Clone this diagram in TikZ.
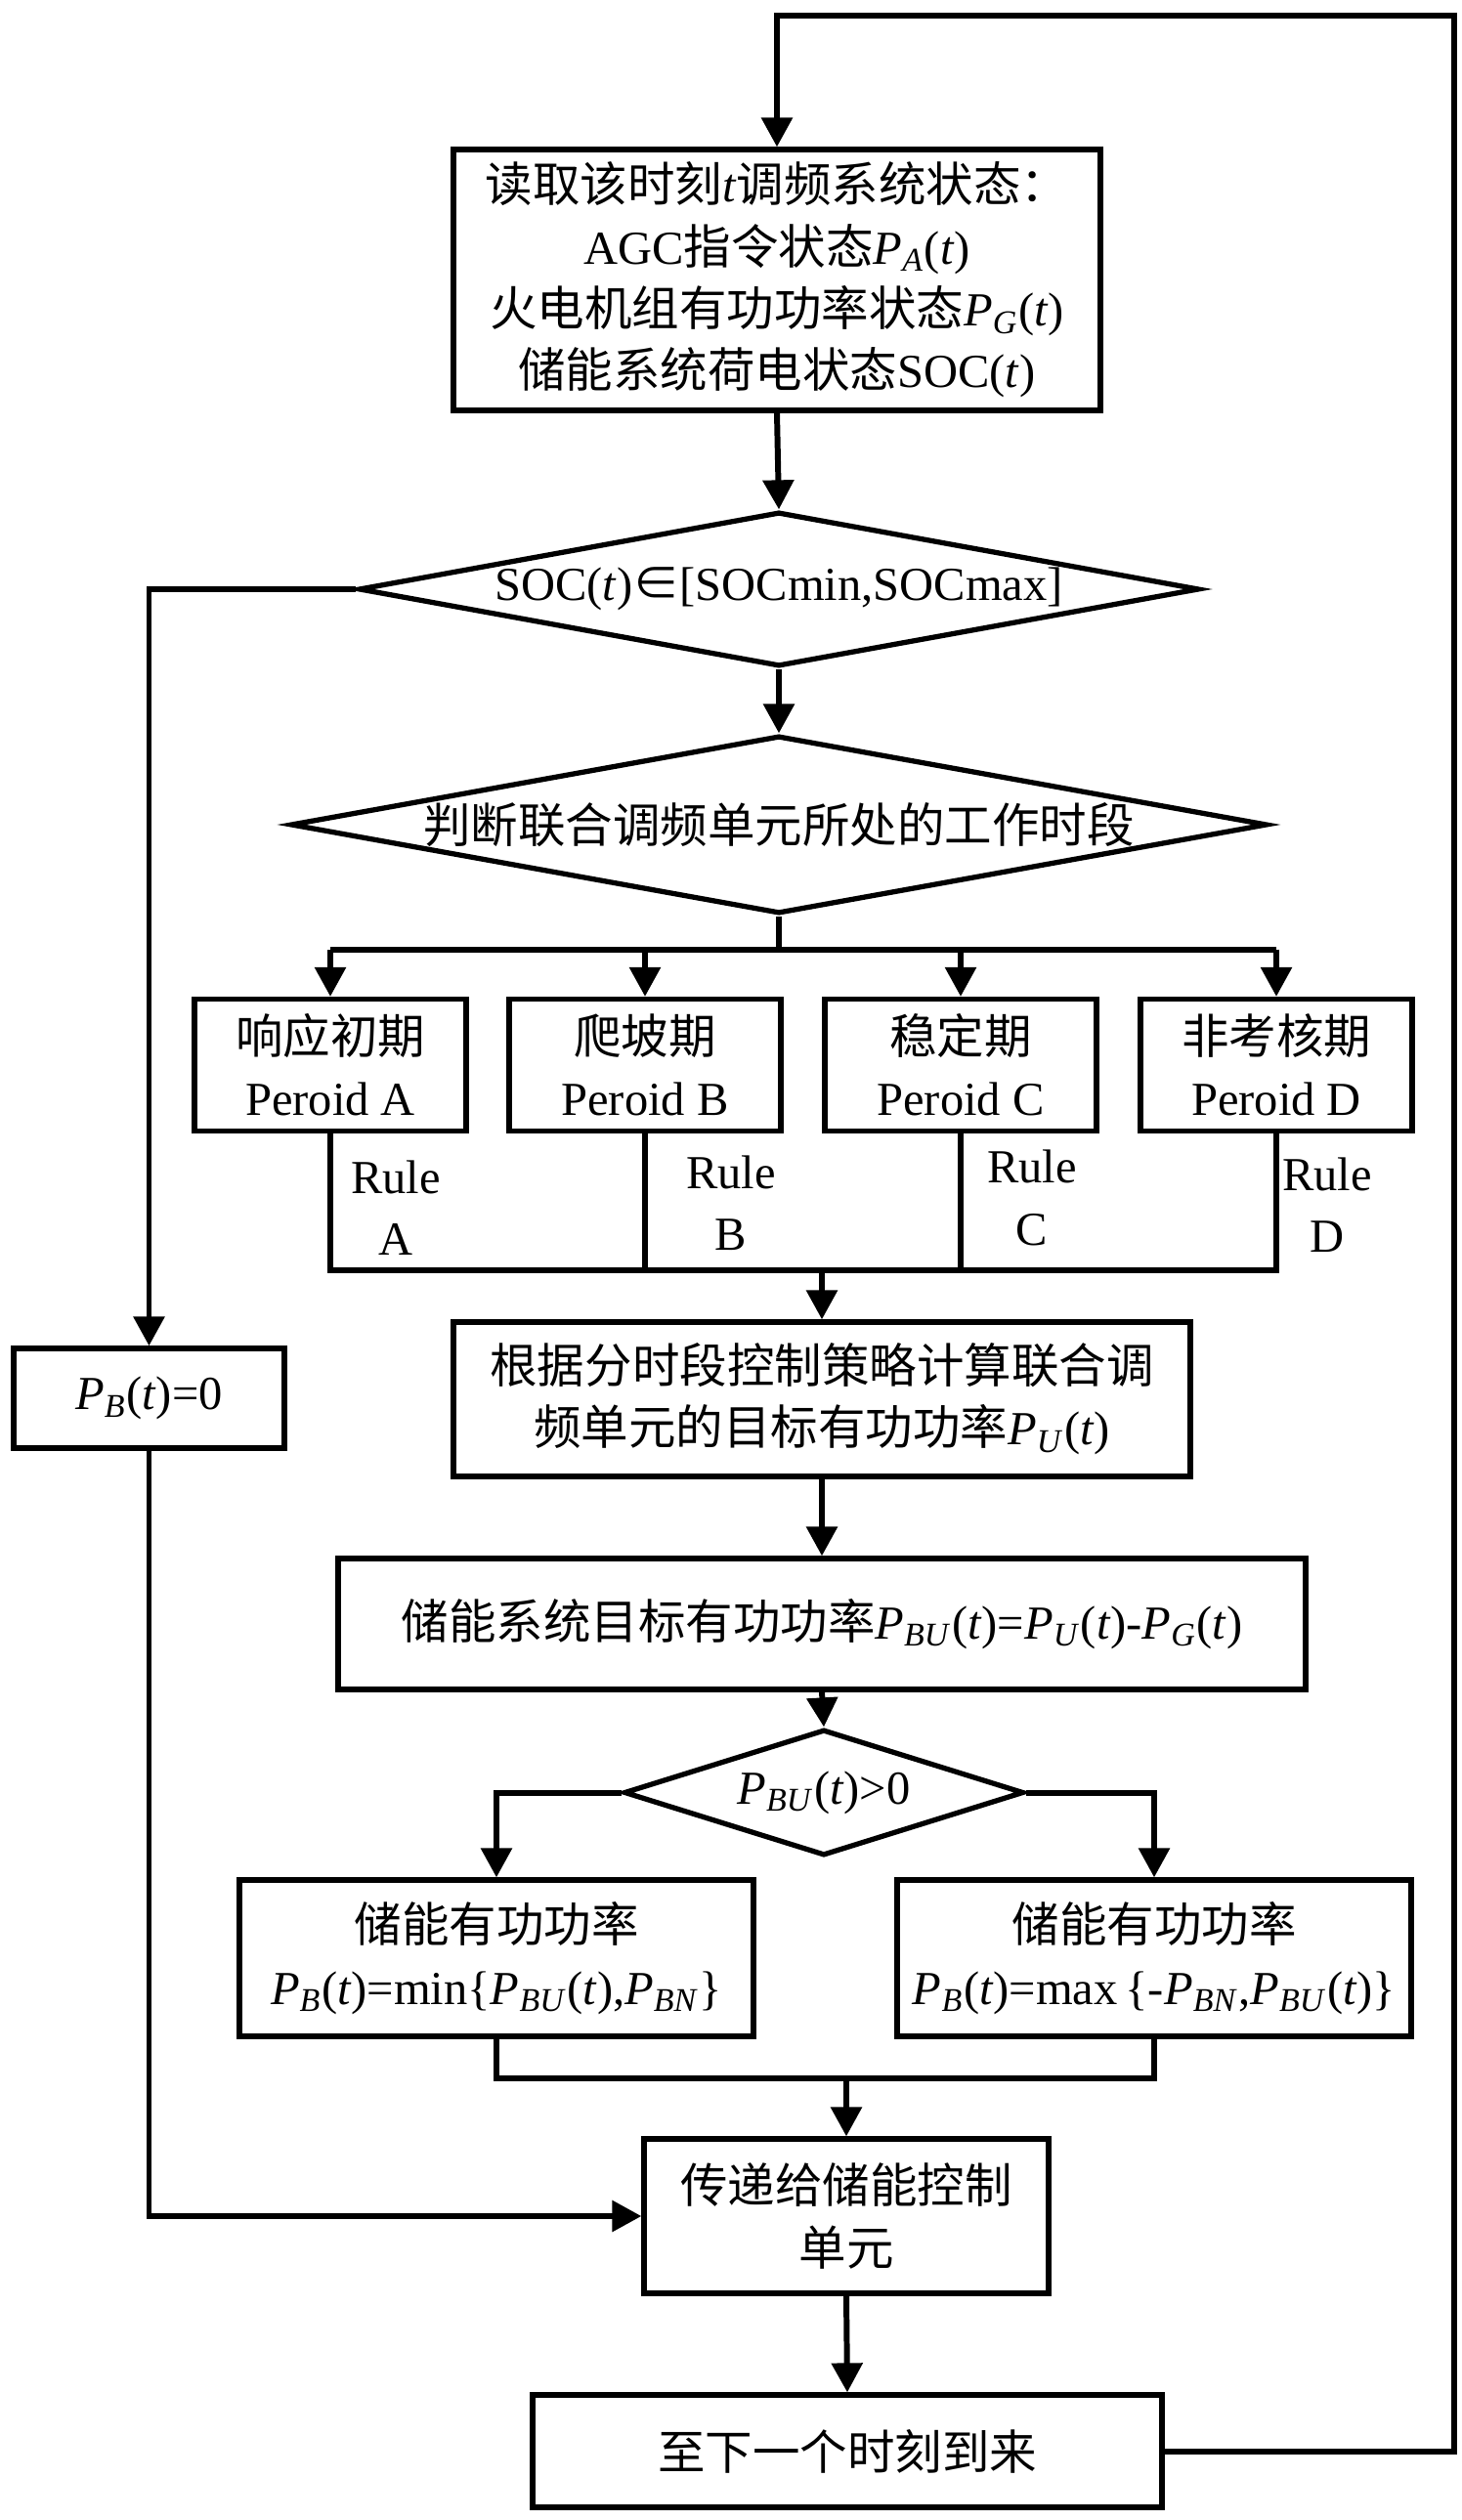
\documentclass[tikz,border=0pt]{standalone}
\usepackage{fontspec}
\setmainfont{Liberation Serif}
\newfontfamily\cjk{Noto Sans CJK SC}
\usetikzlibrary{arrows.meta,shapes.geometric,calc}
\newcommand{\zh}[1]{{\cjk #1}}
\newcommand{\Pv}[1]{\textit{P}\textsubscript{\textit{#1}}}
\newcommand{\vt}{(\textit{t})}
\tikzstyle{every node}=[font=\fontsize{13.8}{18}\selectfont]
\tikzstyle{every path}=[line width=1.7pt,line join=miter]
\tikzstyle{box}=[draw,line width=1.5pt,align=center,inner sep=0pt]
\tikzstyle{dec}=[draw,diamond,line width=1.5pt,inner sep=0pt,align=center]
\tikzstyle{arr}=[-{Triangle[length=3mm,width=3.1mm]}]

\begin{document}
\begin{tikzpicture}
  \useasboundingbox (0,0) rectangle (14.95,-25.79);
  % nodes
  \node[box,minimum width=6.62cm,minimum height=2.67cm] (read) at (7.95,-2.865)
    {\zh{读取该时刻}\textit{t}\zh{调频系统状态：}\\AGC\zh{指令状态}\Pv{A}\vt\\
     \zh{火电机组有功功率状态}\Pv{G}\vt\\\zh{储能系统荷电状态}SOC\vt};
  \node[dec,aspect=6,minimum width=8.6cm,minimum height=1.58cm] (soc) at (7.97,-6.03)
    {SOC\vt\zh{∈}[SOCmin,SOCmax]};
  \node[dec,aspect=6,minimum width=9.88cm,minimum height=1.82cm] (stage) at (7.97,-8.44)
    {\zh{判断联合调频单元所处的工作时段}};
  \node[box,minimum width=2.78cm,minimum height=1.35cm] (pa) at (3.38,-10.90) {\zh{响应初期}\\Peroid A};
  \node[box,minimum width=2.78cm,minimum height=1.35cm] (pb) at (6.60,-10.90) {\zh{爬坡期}\\Peroid B};
  \node[box,minimum width=2.78cm,minimum height=1.35cm] (pc) at (9.83,-10.90) {\zh{稳定期}\\Peroid C};
  \node[box,minimum width=2.78cm,minimum height=1.35cm] (pd) at (13.06,-10.90) {\zh{非考核期}\\Peroid D};
  \node[align=center] (ra) at (4.05,-12.36) {Rule\\A};
  \node[align=center] (rb) at (7.48,-12.31) {Rule\\B};
  \node[align=center] (rc) at (10.56,-12.26) {Rule\\C};
  \node[align=center] (rd) at (13.58,-12.33) {Rule\\D};
  \node[box,minimum width=2.77cm,minimum height=1.02cm] (pbz) at (1.525,-14.31) {\Pv{B}\vt=0};
  \node[box,minimum width=7.54cm,minimum height=1.58cm] (U) at (8.41,-14.32)
    {\zh{根据分时段控制策略计算联合调}\\\zh{频单元的目标有功功率}\Pv{U}\vt};
  \node[box,minimum width=9.90cm,minimum height=1.34cm] (BU) at (8.41,-16.62)
    {\zh{储能系统目标有功功率}\Pv{BU}\vt=\Pv{U}\vt-\Pv{G}\vt};
  \node[dec,aspect=3,minimum width=4.09cm,minimum height=1.29cm] (d3) at (8.43,-18.345)
    {\Pv{BU}\vt>0};
  \node[box,minimum width=5.26cm,minimum height=1.60cm] (L) at (5.08,-20.04)
    {\zh{储能有功功率}\\\Pv{B}\vt=min\{\Pv{BU}\vt,\Pv{BN}\}};
  \node[box,minimum width=5.26cm,minimum height=1.60cm] (R) at (11.81,-20.04)
    {\zh{储能有功功率}\\\Pv{B}\vt=max\,\{-\Pv{BN},\Pv{BU}\vt\}};
  \node[box,minimum width=4.14cm,minimum height=1.58cm] (T) at (8.66,-22.68)
    {\zh{传递给储能控制}\\\zh{单元}};
  \node[box,minimum width=6.44cm,minimum height=1.15cm] (N) at (8.67,-25.085)
    {\zh{至下一个时刻到来}};
  % connectors
  \coordinate (lp) at (14.88,-0.16);
  \draw[arr] (N.east) -| (lp) -| (read.north);
  \draw[arr] (read.south) -- (soc.north);
  \draw[arr] (soc.south) -- (stage.north);
  \draw[arr] (soc.west) -| (pbz.north);
  \draw (stage.south) -- ++(0,-0.34) coordinate (sp);
  \draw (pa.north |- sp) -- (pd.north |- sp);
  \foreach \n in {pa,pb,pc,pd}
    \draw[arr] (\n.north |- sp) -- (\n.north);
  \draw (pa.south) -- ++(0,-1.40) coordinate (jb) -- (pd.south |- jb) -- (pd.south);
  \draw (pb.south) -- (pb.south |- jb)
        (pc.south) -- (pc.south |- jb);
  \draw[arr] (U.north |- jb) -- (U.north);
  \draw[arr] (U.south) -- (BU.north);
  \draw[arr] (BU.south) -- (d3.north);
  \draw[arr] (d3.west) -| (L.north);
  \draw[arr] (d3.east) -| (R.north);
  \draw (L.south) -- ++(0,-0.40) coordinate (jl) -| (R.south);
  \draw[arr] (T.north |- jl) -- (T.north);
  \draw[arr] (pbz.south) |- (T.west);
  \draw[arr] (T.south) -- (N.north);
\end{tikzpicture}
\end{document}
